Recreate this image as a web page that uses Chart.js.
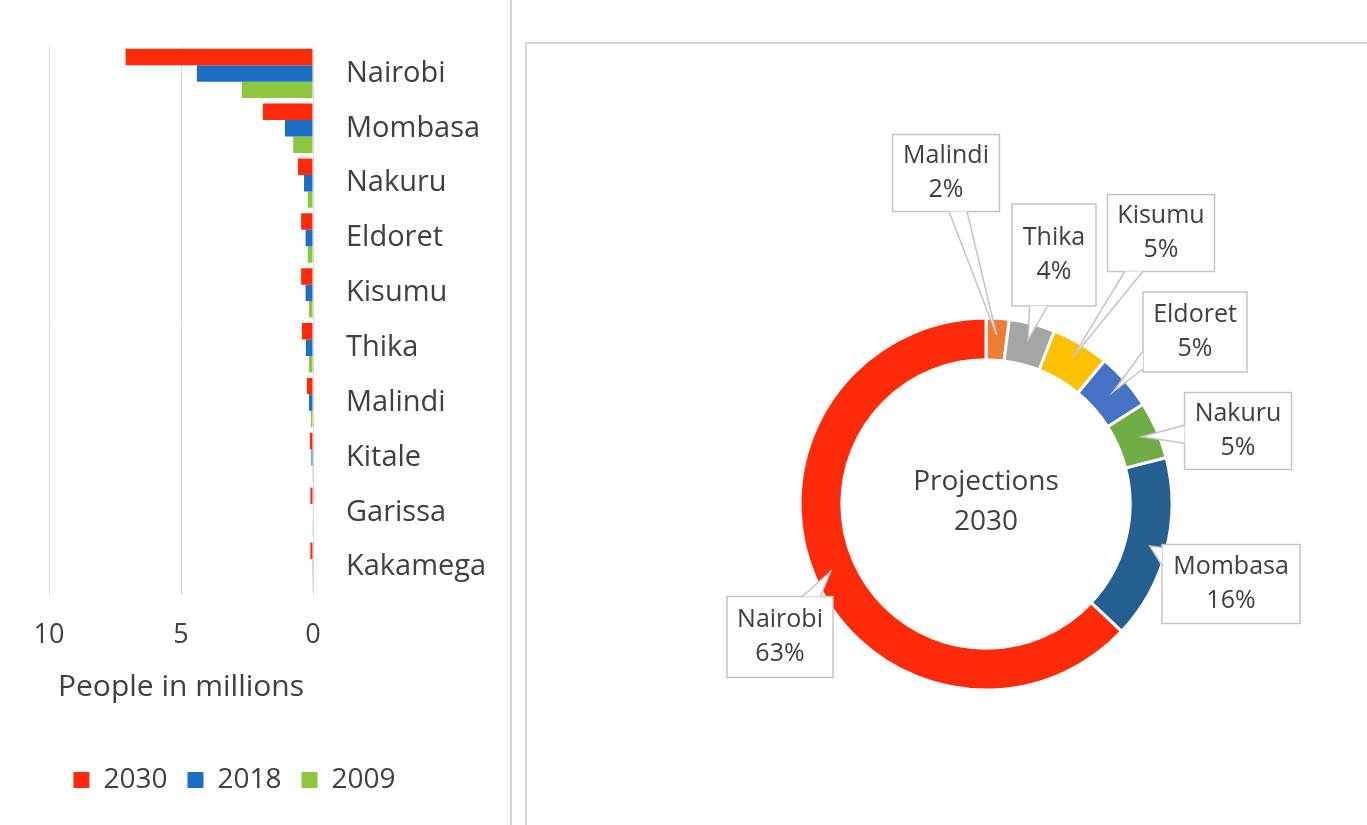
<!DOCTYPE html>
<html>
<head>
<meta charset="utf-8">
<script src="https://cdn.jsdelivr.net/npm/chart.js@4/dist/chart.umd.min.js"></script>
<style>
  html, body { margin: 0; padding: 0; background: #fff; }
  body { width: 1367px; height: 825px; position: relative; overflow: hidden; }
  #left { position: absolute; left: 0; top: 0; width: 505px; height: 825px; }
  #divider { position: absolute; left: 510px; top: 0; width: 2px; height: 825px; background: #d4d4d4; }
  #right { position: absolute; left: 525px; top: 42px; width: 840px; height: 781px;
           border-left: 2px solid #d6d6d6; border-top: 2px solid #d6d6d6; }
</style>
</head>
<body>
<div id="left"><canvas id="barChart"></canvas></div>
<div id="divider"></div>
<div id="right"><canvas id="donutChart"></canvas></div>
<script>
// population by town, millions
const cities = ['Nairobi', 'Mombasa', 'Nakuru', 'Eldoret', 'Kisumu', 'Thika', 'Malindi', 'Kitale', 'Garissa', 'Kakamega'];
const pop2030 = [7.1, 1.9, 0.57, 0.45, 0.45, 0.42, 0.23, 0.12, 0.1, 0.1];
const pop2018 = [4.4, 1.06, 0.34, 0.28, 0.28, 0.27, 0.15, 0.06, 0.02, 0.01];
const pop2009 = [2.7, 0.75, 0.2, 0.2, 0.15, 0.15, 0.08, 0.03, 0.01, 0.01];
const seriesNames = ['2030', '2018', '2009'];

// 2030 projection shares (%)
const donutCities = ['Malindi', 'Thika', 'Kisumu', 'Eldoret', 'Nakuru', 'Mombasa', 'Nairobi'];
const donutShares = [2, 4, 5, 5, 5, 16, 63];
const centerLines = ['Projections', '2030'];

const FONT = '"Open Sans", Lato, sans-serif';
const TEXT = '#404040';
const RED = '#ff2a0a';

// nudge the legend left so it sits under the plot like in the reference
const legendShift = {
    id: 'legendShift',
    afterLayout(chart) {
        chart.legend.left -= 18;
        chart.legend.right -= 18;
    }
};

// Bar chart
const barCtx = document.getElementById('barChart').getContext('2d');
new Chart(barCtx, {
    type: 'bar',
    data: {
        labels: cities,
        datasets: [
            { label: seriesNames[0], data: pop2030, backgroundColor: RED },
            { label: seriesNames[1], data: pop2018, backgroundColor: '#1b6ec2' },
            { label: seriesNames[2], data: pop2009, backgroundColor: '#8dc63f' }
        ]
    },
    options: {
        indexAxis: 'y',
        responsive: true,
        maintainAspectRatio: false,
        animation: false,
        categoryPercentage: 0.9,
        barPercentage: 1.0,
        layout: { padding: { left: 0, right: 0, top: 46, bottom: 21 } },
        scales: {
            x: {
                reverse: true,
                min: 0,
                max: 10,
                ticks: { stepSize: 5, color: TEXT, font: { family: FONT, size: 27 }, padding: 25 },
                grid: { color: '#d9d9d9', drawTicks: false },
                border: { display: false },
                title: {
                    display: true,
                    text: 'People in millions',
                    color: TEXT,
                    font: { family: FONT, size: 30 },
                    padding: { top: -8, bottom: 41 }
                }
            },
            y: {
                position: 'right',
                grid: { display: false },
                border: { display: true, color: '#d9d9d9' },
                ticks: { color: TEXT, font: { family: FONT, size: 29 }, padding: 25 },
                afterFit: (axis) => { axis.width = 192; }
            },
            // empty spacer on the left so the plot starts where the reference does
            spacer: {
                type: 'category',
                position: 'left',
                grid: { display: false },
                border: { display: false },
                ticks: { display: false },
                afterFit: (axis) => { axis.width = 49; }
            }
        },
        plugins: {
            legend: {
                position: 'bottom',
                labels: {
                    color: TEXT,
                    font: { family: FONT, size: 28 },
                    boxWidth: 16,
                    boxHeight: 16,
                    padding: 20
                }
            },
            tooltip: { enabled: false }
        }
    },
    plugins: [legendShift]
});

// callout boxes, offsets from the donut centre
const calloutBoxes = [
    { dx: -40, dy: -331, w: 107, h: 77 },
    { dx: 68, dy: -249, w: 84, h: 102 },
    { dx: 175, dy: -271, w: 107, h: 77 },
    { dx: 209, dy: -172, w: 104, h: 80 },
    { dx: 252, dy: -73, w: 107, h: 77 },
    { dx: 245, dy: 80, w: 138, h: 79 },
    { dx: -206, dy: 133, w: 106, h: 81 }
];

const calloutPlugin = {
    id: 'callouts',
    afterDatasetsDraw(chart) {
        const ctx = chart.ctx;
        const meta = chart.getDatasetMeta(0);
        meta.data.forEach((arc, i) => {
            const p = arc.getProps(['x', 'y', 'startAngle', 'endAngle', 'innerRadius', 'outerRadius'], true);
            const mid = (p.startAngle + p.endAngle) / 2;
            const r = (p.innerRadius + p.outerRadius) / 2 + 4;
            const tx = p.x + Math.cos(mid) * r;
            const ty = p.y + Math.sin(mid) * r;
            const b = calloutBoxes[i];
            const cx = p.x + b.dx, cy = p.y + b.dy;
            const left = cx - b.w / 2, top = cy - b.h / 2;

            ctx.save();
            ctx.fillStyle = '#fff';
            ctx.strokeStyle = '#c4c4c4';
            ctx.lineWidth = 1.5;
            ctx.fillRect(left, top, b.w, b.h);
            ctx.strokeRect(left, top, b.w, b.h);

            // where the pointer leaves the box
            const vx = tx - cx, vy = ty - cy;
            const sx = vx !== 0 ? (b.w / 2) / Math.abs(vx) : Infinity;
            const sy = vy !== 0 ? (b.h / 2) / Math.abs(vy) : Infinity;
            let b1, b2;
            if (sy < sx) {
                const ey = cy + vy * sy;
                const ex = Math.min(Math.max(cx + vx * sy, left + 12), left + b.w - 12);
                b1 = [ex - 9, ey]; b2 = [ex + 9, ey];
            } else {
                const ex = cx + vx * sx;
                const ey = Math.min(Math.max(cy + vy * sx, top + 12), top + b.h - 12);
                b1 = [ex, ey - 9]; b2 = [ex, ey + 9];
            }
            ctx.beginPath();
            ctx.moveTo(b1[0], b1[1]);
            ctx.lineTo(tx, ty);
            ctx.lineTo(b2[0], b2[1]);
            ctx.closePath();
            ctx.fill();
            ctx.beginPath();
            ctx.moveTo(b1[0], b1[1]);
            ctx.lineTo(tx, ty);
            ctx.lineTo(b2[0], b2[1]);
            ctx.stroke();

            ctx.fillStyle = TEXT;
            ctx.font = '25px ' + FONT;
            ctx.textAlign = 'center';
            ctx.textBaseline = 'middle';
            ctx.fillText(chart.data.labels[i], cx, cy - 17);
            ctx.fillText(chart.data.datasets[0].data[i] + '%', cx, cy + 17);

            ctx.restore();
        });

        // centre text
        const c = meta.data[0];
        ctx.save();
        ctx.fillStyle = TEXT;
        ctx.font = '28px ' + FONT;
        ctx.textAlign = 'center';
        ctx.textBaseline = 'middle';
        ctx.fillText(centerLines[0], c.x, c.y - 22);
        ctx.fillText(centerLines[1], c.x, c.y + 18);
        ctx.restore();
    }
};

// Donut chart
const donutCtx = document.getElementById('donutChart').getContext('2d');
new Chart(donutCtx, {
    type: 'doughnut',
    data: {
        labels: donutCities,
        datasets: [{
            data: donutShares,
            backgroundColor: ['#ed7d31', '#a5a5a5', '#ffc000', '#4472c4', '#70ad47', '#255e91', RED],
            borderColor: '#fff',
            borderWidth: 3
        }]
    },
    options: {
        responsive: true,
        maintainAspectRatio: false,
        animation: false,
        radius: 186,
        cutout: '77.5%',
        layout: { padding: { left: 100, right: 22, top: 160, bottom: 21 } },
        plugins: {
            legend: { display: false },
            tooltip: { enabled: false }
        }
    },
    plugins: [calloutPlugin]
});
</script>
</body>
</html>
